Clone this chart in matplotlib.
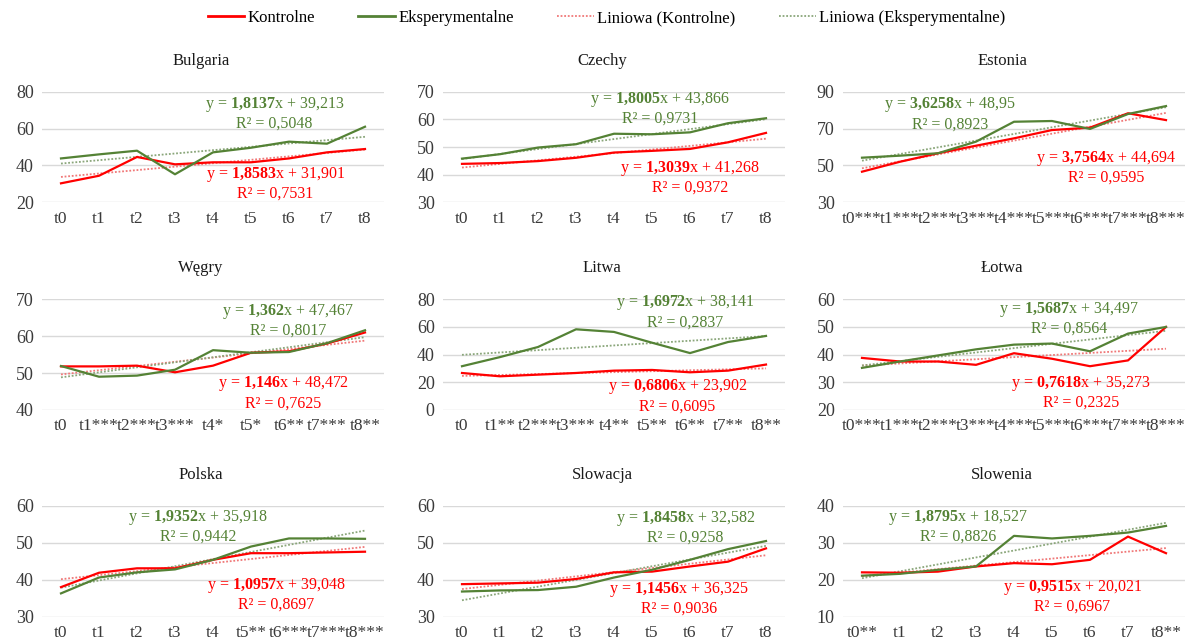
import numpy as np
import matplotlib
matplotlib.use("Agg")
import matplotlib.pyplot as plt
from matplotlib.lines import Line2D

plt.rcParams["font.family"] = ["Liberation Serif", "DejaVu Serif"]
plt.rcParams["mathtext.fontset"] = "custom"
plt.rcParams["mathtext.rm"] = "Liberation Serif"
plt.rcParams["mathtext.bf"] = "Liberation Serif:bold"

RED = "#ff0000"
GREEN = "#548235"
RED_TREND = "#f07878"
GREEN_TREND = "#8aa67a"
GRID = "#d9d9d9"
TICK = "#3a3a3a"

bulgaria_k = [30.3, 34.4, 44.6, 40.6, 41.7, 41.7, 43.8, 47.1, 48.9]
bulgaria_e = [43.8, 46.0, 48.0, 35.2, 47.1, 49.6, 52.9, 51.8, 61.0]
czechy_k = [43.9, 44.2, 44.9, 46.1, 48.0, 48.6, 49.3, 51.7, 55.1]
czechy_e = [45.8, 47.4, 49.8, 51.0, 54.8, 54.6, 55.3, 58.6, 60.4]
estonia_k = [46.6, 52.0, 56.6, 60.7, 64.7, 69.2, 70.5, 78.3, 74.6]
estonia_e = [54.2, 55.3, 56.6, 62.9, 73.7, 74.1, 69.8, 77.9, 82.2]
wegry_k = [51.8, 51.8, 52.0, 50.2, 52.0, 55.5, 55.9, 58.0, 61.0]
wegry_e = [51.9, 49.0, 49.3, 50.9, 56.2, 55.5, 55.7, 58.1, 61.6]
litwa_k = [26.7, 24.3, 25.5, 26.7, 28.4, 28.9, 27.2, 28.4, 32.8]
litwa_e = [31.6, 38.2, 45.5, 58.3, 56.4, 48.6, 41.1, 49.1, 53.5]
lotwa_k = [38.8, 37.5, 37.5, 36.3, 40.5, 38.5, 35.8, 37.9, 50.0]
lotwa_e = [35.2, 37.5, 39.7, 41.9, 43.6, 44.0, 41.2, 47.6, 50.0]
polska_k = [38.0, 41.9, 43.1, 43.1, 45.4, 47.2, 47.2, 47.4, 47.6]
polska_e = [36.3, 40.6, 42.0, 42.8, 45.4, 49.0, 51.2, 51.2, 51.1]
slowacja_k = [38.8, 39.0, 39.2, 40.2, 42.0, 42.2, 43.6, 44.9, 48.5]
slowacja_e = [36.8, 37.1, 37.2, 38.1, 40.6, 42.7, 45.4, 48.3, 50.5]
slowenia_k = [22.0, 21.9, 22.2, 23.6, 24.5, 24.2, 25.4, 31.7, 27.2]
slowenia_e = [21.1, 21.6, 22.7, 23.6, 31.9, 31.2, 31.9, 32.8, 34.6]

# linie trendu z wykresu: (nachylenie, wyraz wolny, R2)
trend_k = [(1.8583, 31.901, "0,7531"), (1.3039, 41.268, "0,9372"), (3.7564, 44.694, "0,9595"),
           (1.146, 48.472, "0,7625"), (0.6806, 23.902, "0,6095"), (0.7618, 35.273, "0,2325"),
           (1.0957, 39.048, "0,8697"), (1.1456, 36.325, "0,9036"), (0.9515, 20.021, "0,6967")]
trend_e = [(1.8137, 39.213, "0,5048"), (1.8005, 43.866, "0,9731"), (3.6258, 48.95, "0,8923"),
           (1.362, 47.467, "0,8017"), (1.6972, 38.141, "0,2837"), (1.5687, 34.497, "0,8564"),
           (1.9352, 35.918, "0,9442"), (1.8458, 32.582, "0,9258"), (1.8795, 18.527, "0,8826")]

titles = ["Bulgaria", "Czechy", "Estonia", "Węgry", "Litwa", "Łotwa", "Polska", "Slowacja", "Slowenia"]
y_ranges = [(20, 80, 20), (30, 70, 10), (30, 90, 20), (40, 70, 10), (0, 80, 20),
            (20, 60, 10), (30, 60, 10), (30, 60, 10), (10, 40, 10)]

plain = ["t0", "t1", "t2", "t3", "t4", "t5", "t6", "t7", "t8"]
stars3 = [t + "***" for t in plain]
tick_labels = [plain, plain, stars3,
               ["t0", "t1***", "t2***", "t3***", "t4*", "t5*", "t6**", "t7***", "t8**"],
               ["t0", "t1**", "t2***", "t3***", "t4**", "t5**", "t6**", "t7**", "t8**"],
               stars3,
               ["t0", "t1", "t2", "t3", "t4", "t5**", "t6***", "t7***", "t8***"],
               plain,
               ["t0**", "t1", "t2", "t3", "t4", "t5", "t6", "t7", "t8**"]]

kontrolne = [bulgaria_k, czechy_k, estonia_k, wegry_k, litwa_k, lotwa_k, polska_k, slowacja_k, slowenia_k]
eksperymentalne = [bulgaria_e, czechy_e, estonia_e, wegry_e, litwa_e, lotwa_e, polska_e, slowacja_e, slowenia_e]

# polozenie rownan (ulamki osi): zielone, czerwone
eq_pos_e = [(0.68, 0.805), (0.635, 0.85), (0.313, 0.80), (0.72, 0.81), (0.708, 0.887),
            (0.661, 0.831), (0.456, 0.818), (0.708, 0.809), (0.336, 0.818)]
eq_pos_k = [(0.683, 0.172), (0.722, 0.224), (0.77, 0.313), (0.705, 0.155), (0.686, 0.128),
            (0.696, 0.158), (0.686, 0.199), (0.69, 0.162), (0.671, 0.181)]

W, H = 1189, 644
fig = plt.figure(figsize=(W / 100, H / 100), dpi=100)

lefts = [42, 443, 843]
width = 342
tops = [91.7, 299.3, 506]
height = 110.6


def fmt(v):
    return str(v).replace(".", ",")


def eq_text(slope, intercept, r2):
    s = fmt(slope).replace(",", "{,}")
    return "y = $\\mathbf{" + s + "}$x + " + fmt(intercept) + "\nR² = " + r2


x = np.arange(1, 10)
for i in range(9):
    r, c = divmod(i, 3)
    left, top = lefts[c], tops[r]
    ax = fig.add_axes([left / W, 1 - (top + height) / H, width / W, height / H])
    lo, hi, step = y_ranges[i]
    ax.set_ylim(lo, hi)
    ax.set_yticks(np.arange(lo, hi + 0.1, step))
    ax.set_xlim(0.5, 9.5)
    ax.set_xticks(x)
    ax.set_xticklabels(tick_labels[i])
    ax.grid(axis="y", color=GRID, lw=1)
    ax.set_axisbelow(True)
    for sp in ax.spines.values():
        sp.set_visible(False)
    ax.tick_params(length=0, colors=TICK)
    ax.tick_params(axis="x", pad=6, labelsize=12.5)
    ax.tick_params(axis="y", pad=6, labelsize=13)

    sk, ik, rk = trend_k[i]
    se, ie, re_ = trend_e[i]
    ax.plot(x, sk * x + ik, color=RED_TREND, lw=1.3, ls=(0, (1, 1)), zorder=2)
    ax.plot(x, se * x + ie, color=GREEN_TREND, lw=1.3, ls=(0, (1, 1)), zorder=2)
    ax.plot(x, kontrolne[i], color=RED, lw=1.6, zorder=3)
    ax.plot(x, eksperymentalne[i], color=GREEN, lw=1.6, zorder=3)

    fx, fy = eq_pos_e[i]
    ax.text(fx, fy, eq_text(se, ie, re_), transform=ax.transAxes, color=GREEN,
            ha="center", va="center", ma="center", fontsize=11.5, linespacing=1.15, zorder=4)
    fx, fy = eq_pos_k[i]
    ax.text(fx, fy, eq_text(sk, ik, rk), transform=ax.transAxes, color=RED,
            ha="center", va="center", ma="center", fontsize=11.5, linespacing=1.15, zorder=4)

    fig.text((left + width / 2 - 12) / W, 1 - (top - 31) / H, titles[i],
             ha="center", va="center", fontsize=12, color="#1a1a1a")

handles = [Line2D([], [], color=RED, lw=2),
           Line2D([], [], color=GREEN, lw=2),
           Line2D([], [], color=RED_TREND, lw=1.3, ls=(0, (1, 1))),
           Line2D([], [], color=GREEN_TREND, lw=1.3, ls=(0, (1, 1)))]
labels = ["Kontrolne", "Eksperymentalne", "Liniowa (Kontrolne)", "Liniowa (Eksperymentalne)"]
fig.legend(handles, labels, loc="center", bbox_to_anchor=(0.51, 1 - 18 / H), ncol=4,
           frameon=False, fontsize=12, handlelength=2.2, handletextpad=0.2, columnspacing=2.6)

fig.savefig("out.png", dpi=100)
